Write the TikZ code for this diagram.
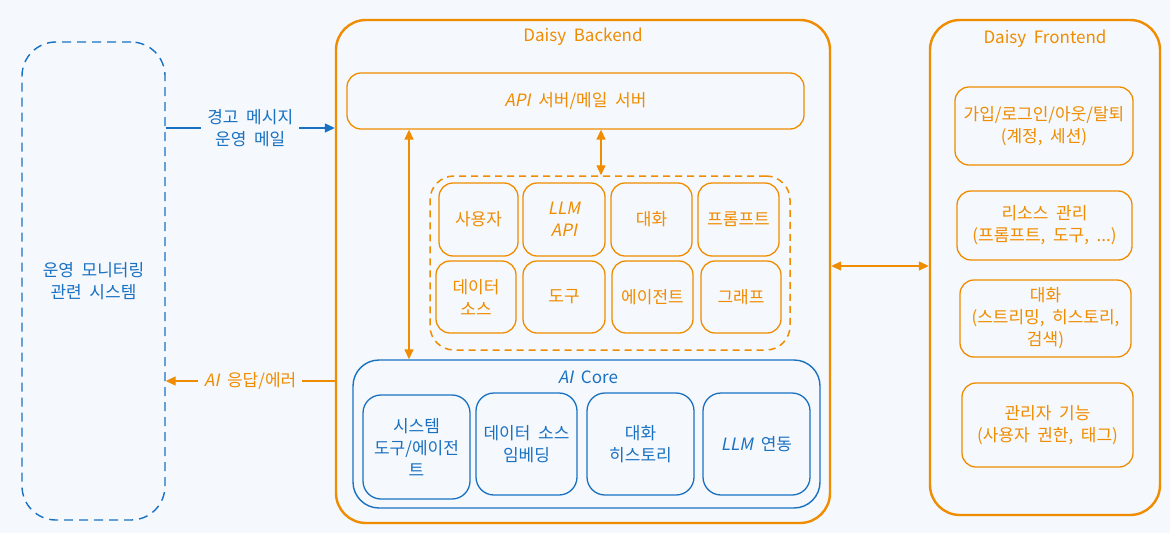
\documentclass[tikz,border=0pt]{standalone}
\usepackage{fontspec}
\setmainfont[WordSpace=2]{Noto Sans CJK KR}
\newfontfamily\slantfont[FakeSlant=0.2, WordSpace=2]{Noto Sans CJK KR}
\usetikzlibrary{arrows.meta}

\definecolor{bgcol}{HTML}{F5F8FC}
\definecolor{daisyorange}{HTML}{F08C00}
\definecolor{daisyblue}{HTML}{1971C2}

\newcommand{\slnt}[1]{{\slantfont #1}}

\tikzset{
  outerbox/.style={draw=daisyorange, line width=2.4pt, rounded corners=30pt},
  groupbox/.style={draw=daisyorange, line width=1.5pt, dashed, dash pattern=on 7pt off 5pt, rounded corners=24pt},
  orangebox/.style={draw=daisyorange, text=daisyorange, line width=1.3pt, rounded corners=14pt, align=center, inner sep=2pt},
  bluebox/.style={draw=daisyblue, text=daisyblue, line width=1.3pt, rounded corners=18pt, align=center, inner sep=2pt},
  title/.style={text=daisyorange, font=\fontsize{17}{20}\selectfont},
  edgelabel/.style={fill=bgcol, align=center, inner sep=6pt},
  tip/.style={-{Triangle[length=10pt,width=9pt]}},
  twotip/.style={{Triangle[length=10pt,width=9pt]}-{Triangle[length=10pt,width=9pt]}}
}

\begin{document}
\begin{tikzpicture}[x=1pt, y=-1pt, font=\fontsize{17}{22}\selectfont]
\useasboundingbox [fill=bgcol] (0,0) rectangle (1170,533);

% monitoring system
\node (mon) at (93.5,281) [draw=daisyblue, text=daisyblue, line width=1.4pt, dashed, dash pattern=on 9pt off 6pt, rounded corners=34pt, minimum width=143pt, minimum height=478pt, align=center] {운영 모니터링\\ 관련 시스템};

% backend
\node (backend) at (583,271.5) [outerbox, minimum width=494pt, minimum height=503pt] {};
\node (btitle) at (583,37) [title] {Daisy Backend};
\node (api) at (575.5,101) [orangebox, minimum width=457pt, minimum height=56pt] {\slnt{API} 서버/메일 서버};

\node (grp) at (610,263) [groupbox, minimum width=360pt, minimum height=174pt] {};
\node (user) at (478.5,219.5) [orangebox, minimum width=79pt, minimum height=73pt] {사용자};
\node (llmapi) at (564,219.5) [orangebox, minimum width=82pt, minimum height=73pt] {\slnt{LLM}\\ \slnt{API}};
\node (conv) at (651.5,219.5) [orangebox, minimum width=81pt, minimum height=73pt] {대화};
\node (prompt) at (738.5,219.5) [orangebox, minimum width=81pt, minimum height=73pt] {프롬프트};
\node (dsrc) at (476,297) [orangebox, minimum width=80pt, minimum height=72pt] {데이터\\ 소스};
\node (tool) at (564,297) [orangebox, minimum width=82pt, minimum height=72pt] {도구};
\node (agent) at (652.5,297) [orangebox, minimum width=81pt, minimum height=72pt] {에이전트};
\node (graph) at (741,297) [orangebox, minimum width=80pt, minimum height=72pt] {그래프};

\node (core) at (586.5,434) [bluebox, line width=1.4pt, rounded corners=26pt, minimum width=467pt, minimum height=148pt] {};
\node (ctitle) at (588,377) [text=daisyblue] {\slnt{AI} Core};
\node (systool) at (416.5,447) [bluebox, minimum width=107pt, minimum height=104pt] {시스템\\ 도구/에이전\\ 트};
\node (embed) at (526.5,444) [bluebox, minimum width=101pt, minimum height=102pt] {데이터 소스\\ 임베딩};
\node (hist) at (640.5,444) [bluebox, minimum width=107pt, minimum height=102pt] {대화\\ 히스토리};
\node (llm) at (756.5,444) [bluebox, minimum width=107pt, minimum height=102pt] {\slnt{LLM} 연동};

% frontend
\node (frontend) at (1045,267.5) [outerbox, minimum width=230pt, minimum height=495pt] {};
\node (ftitle) at (1045,39) [title] {Daisy Frontend};
\node (account) at (1044,126) [orangebox, minimum width=178pt, minimum height=78pt] {가입/로그인/아웃/탈퇴\\ (계정, 세션)};
\node (resource) at (1044.5,225.5) [orangebox, minimum width=175pt, minimum height=69pt] {리소스 관리\\ (프롬프트, 도구, ...)};
\node (chat) at (1045.5,318.5) [orangebox, minimum width=171pt, minimum height=77pt] {대화\\ (스트리밍, 히스토리,\\ 검색)};
\node (admin) at (1047.5,425) [orangebox, minimum width=171pt, minimum height=84pt] {관리자 기능\\ (사용자 권한, 태그)};

% connectors
\draw [tip, daisyblue, line width=1.4pt] (mon.east |- 0,128) -- (backend.west |- 0,128) node[midway, edgelabel, text=daisyblue] {경고 메시지\\ 운영 메일};
\draw [tip, daisyorange, line width=1.4pt] (backend.west |- 0,381) -- (mon.east |- 0,381) node[midway, edgelabel, text=daisyorange] {\slnt{AI} 응답/에러};
\draw [twotip, daisyorange, line width=1.4pt] (api.south -| 409,0) -- (core.north -| 409,0);
\draw [twotip, daisyorange, line width=1.4pt] (api.south -| 601,0) -- (grp.north -| 601,0);
\draw [twotip, daisyorange, line width=1.4pt] (backend.east |- 0,266) -- (frontend.west |- 0,266);
\end{tikzpicture}
\end{document}
